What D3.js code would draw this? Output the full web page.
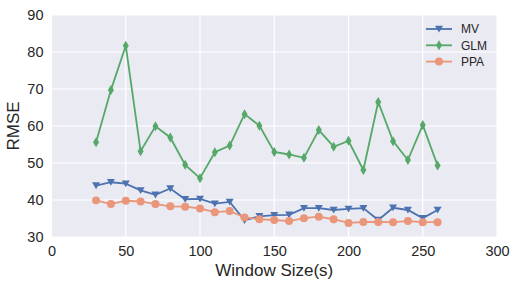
<!DOCTYPE html>
<html>
<head>
<meta charset="utf-8">
<script src="https://cdn.jsdelivr.net/npm/d3@7"></script>
<style>
body { margin: 0; background: #fff; }
text { font-family: "Liberation Sans", Arial, sans-serif; fill: #262626; }
</style>
</head>
<body>
<svg id="chart" width="517" height="285"></svg>
<script>
const width = 517,
	height = 285;

const margin = {top: 15, right: 20, bottom: 48, left: 51.5};

const windowSizes = [30, 40, 50, 60, 70, 80, 90, 100, 110, 120, 130, 140, 150, 160, 170, 180, 190, 200, 210, 220, 230, 240, 250, 260];

const mv = [43.9, 44.8, 44.4, 42.6, 41.4, 43.1, 40.2, 40.3, 39.0, 39.5, 34.5, 35.6, 35.9, 36.0, 37.8, 37.8, 37.3, 37.6, 37.8, 34.6, 37.9, 37.3, 35.1, 37.3];
const glm = [55.6, 69.7, 81.7, 53.2, 59.9, 56.9, 49.5, 45.9, 52.9, 54.7, 63.2, 60.1, 53.0, 52.3, 51.4, 58.9, 54.4, 56.0, 48.1, 66.5, 55.9, 50.8, 60.3, 49.3];
const ppa = [39.9, 38.9, 39.8, 39.6, 38.9, 38.3, 38.2, 37.7, 36.7, 37.0, 35.3, 34.8, 34.6, 34.3, 35.1, 35.5, 34.8, 33.8, 34.05, 34.05, 34.0, 34.3, 34.0, 34.0];

const seriesNames = ["MV", "GLM", "PPA"];
const xTicks = [0, 50, 100, 150, 200, 250, 300];
const yTicks = [30, 40, 50, 60, 70, 80, 90];

const series = [
	{name: "MV", values: mv, color: "#4C72B0", marker: "tri"},
	{name: "GLM", values: glm, color: "#55A868", marker: "diamond"},
	{name: "PPA", values: ppa, color: "#E9967A", marker: "circle"}
];

const xScale = d3.scaleLinear()
	.domain([0, 300])
	.range([margin.left, width - margin.right]);

const yScale = d3.scaleLinear()
	.domain([30, 90])
	.range([height - margin.bottom, margin.top]);

const line = d3.line()
	.x(d => xScale(d.x))
	.y(d => yScale(d.y));

const svg = d3.select("#chart");

// background
svg.append("rect")
	.attr("x", xScale(0))
	.attr("y", yScale(90))
	.attr("width", xScale(300) - xScale(0))
	.attr("height", yScale(30) - yScale(90))
	.attr("fill", "#EAEAF2");

// grid
svg.append("g")
	.selectAll("line.vgrid")
	.data(xTicks)
	.join("line")
	.attr("x1", d => xScale(d))
	.attr("x2", d => xScale(d))
	.attr("y1", yScale(30))
	.attr("y2", yScale(90))
	.attr("stroke", "#fff")
	.attr("stroke-width", 1.2);

svg.append("g")
	.selectAll("line.hgrid")
	.data(yTicks)
	.join("line")
	.attr("x1", xScale(0))
	.attr("x2", xScale(300))
	.attr("y1", d => yScale(d))
	.attr("y2", d => yScale(d))
	.attr("stroke", "#fff")
	.attr("stroke-width", 1.2);

// axes
const xAxis = svg.append("g")
	.attr("transform", `translate(0,${yScale(30)})`)
	.call(d3.axisBottom(xScale).tickValues(xTicks).tickSize(0).tickPadding(8));
xAxis.select(".domain").remove();
xAxis.selectAll("text").attr("font-size", 14.5).attr("dy", "0.75em");

const yAxis = svg.append("g")
	.attr("transform", `translate(${xScale(0)},0)`)
	.call(d3.axisLeft(yScale).tickValues(yTicks).tickSize(0).tickPadding(8));
yAxis.select(".domain").remove();
yAxis.selectAll("text").attr("font-size", 14.5);

svg.append("text")
	.attr("x", (xScale(0) + xScale(300)) / 2)
	.attr("y", 276)
	.attr("text-anchor", "middle")
	.attr("font-size", 17)
	.text("Window Size(s)");

svg.append("text")
	.attr("transform", `translate(18.5,${(yScale(30) + yScale(90)) / 2}) rotate(-90)`)
	.attr("text-anchor", "middle")
	.attr("font-size", 17)
	.text("RMSE");

// markers
const triDown = d3.symbol().type({draw(ctx, size) {
	const r = Math.sqrt(size) / 2;
	ctx.moveTo(-r, -r * 0.8);
	ctx.lineTo(r, -r * 0.8);
	ctx.lineTo(0, r * 0.9);
	ctx.closePath();
}}).size(64);

const thinDiamond = d3.symbol().type({draw(ctx, size) {
	const r = Math.sqrt(size) / 2;
	ctx.moveTo(0, -r);
	ctx.lineTo(r * 0.6, 0);
	ctx.lineTo(0, r);
	ctx.lineTo(-r * 0.6, 0);
	ctx.closePath();
}}).size(100);

const circle = d3.symbol().type(d3.symbolCircle).size(50);

function markerPath(m) {
	if (m === "tri") return triDown();
	if (m === "diamond") return thinDiamond();
	return circle();
}

series.forEach(s => {
	const data = windowSizes.map((x, i) => ({x: x, y: s.values[i]}));
	const g = svg.append("g");
	g.append("path")
		.datum(data)
		.attr("fill", "none")
		.attr("stroke", s.color)
		.attr("stroke-width", 1.8)
		.attr("d", line);
	g.selectAll("path.marker")
		.data(data)
		.join("path")
		.attr("class", "marker")
		.attr("transform", d => `translate(${xScale(d.x)},${yScale(d.y)})`)
		.attr("fill", s.color)
		.attr("d", markerPath(s.marker));
});

// legend
const legend = svg.append("g")
	.attr("transform", "translate(426,29)");

series.forEach((s, i) => {
	const row = legend.append("g").attr("transform", `translate(0,${i * 16.3})`);
	row.append("line")
		.attr("x1", 0).attr("x2", 26)
		.attr("stroke", s.color)
		.attr("stroke-width", 1.8);
	row.append("path")
		.attr("transform", "translate(13,0)")
		.attr("fill", s.color)
		.attr("d", markerPath(s.marker));
	row.append("text")
		.attr("x", 35)
		.attr("dy", "0.35em")
		.attr("font-size", 12)
		.text(seriesNames[i]);
});
</script>
</body>
</html>
